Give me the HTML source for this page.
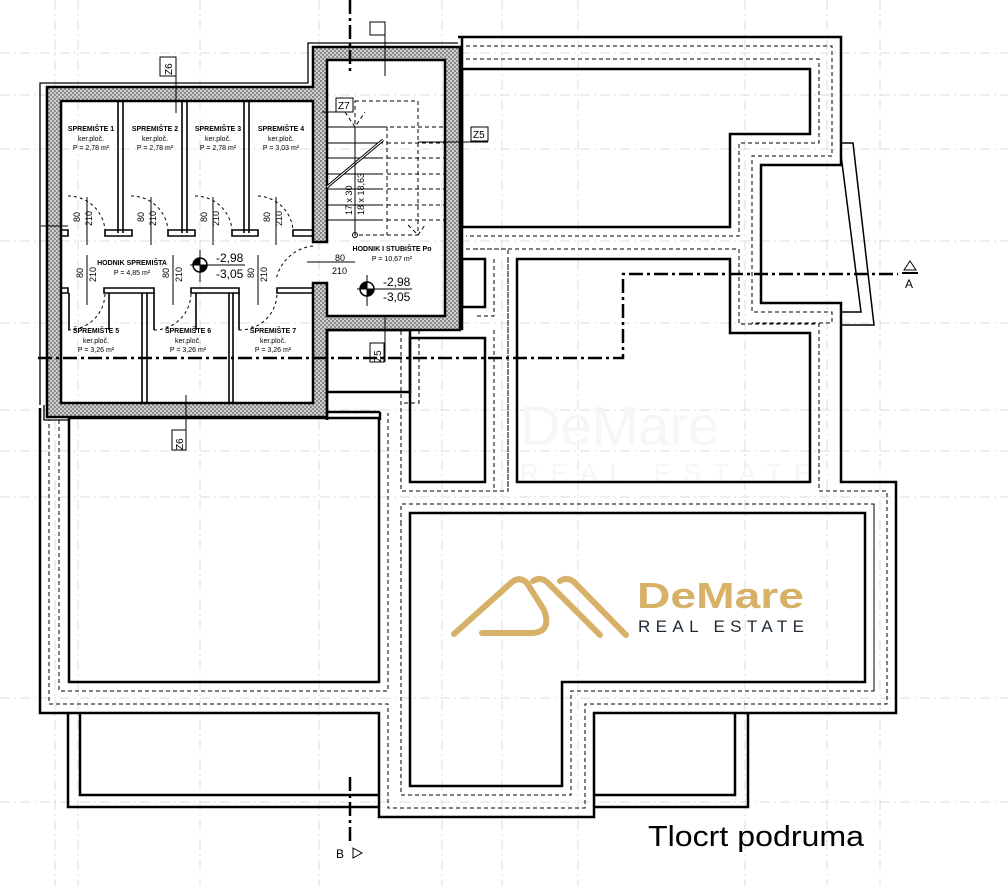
<!DOCTYPE html>
<html><head><meta charset="utf-8"><style>
html,body{margin:0;padding:0;background:#fff;}
svg{display:block;}
text{font-family:"Liberation Sans",sans-serif;}
</style></head><body>
<svg width="1008" height="886" viewBox="0 0 1008 886" xmlns="http://www.w3.org/2000/svg">
<defs>
<pattern id="h" width="4" height="4" patternUnits="userSpaceOnUse">
<rect width="4" height="4" fill="#d0d0d0"/><rect width="2" height="2" fill="#8a8a8a"/><rect x="2" y="2" width="2" height="2" fill="#8a8a8a"/>
</pattern>
</defs>
<!-- grid -->
<g stroke="#dcdcdc" stroke-width="1" stroke-dasharray="10,4,2,4" fill="none">
<line x1="0" y1="53" x2="1008" y2="53"/><line x1="0" y1="95" x2="1008" y2="95"/>
<line x1="0" y1="149" x2="1008" y2="149"/><line x1="0" y1="241" x2="1008" y2="241"/>
<line x1="0" y1="323" x2="1008" y2="323"/><line x1="0" y1="410" x2="1008" y2="410"/>
<line x1="0" y1="451" x2="1008" y2="451"/><line x1="0" y1="497" x2="1008" y2="497"/>
<line x1="0" y1="698" x2="1008" y2="698"/><line x1="0" y1="802" x2="1008" y2="802"/>
<line x1="55" y1="0" x2="55" y2="886"/><line x1="78" y1="0" x2="78" y2="886"/>
<line x1="319" y1="0" x2="319" y2="886"/><line x1="442" y1="0" x2="442" y2="886"/>
<line x1="502" y1="0" x2="502" y2="886"/><line x1="578" y1="0" x2="578" y2="886"/>
<line x1="745" y1="0" x2="745" y2="886"/><line x1="827" y1="0" x2="827" y2="886"/>
<line x1="880" y1="0" x2="880" y2="886"/><line x1="200" y1="0" x2="200" y2="886"/>
</g>
<!-- watermark faint -->
<text x="520" y="445" font-size="56" fill="#f5f6f8">DeMare</text>
<text x="520" y="482" font-size="26" fill="#f5f6f8" letter-spacing="12">REAL ESTATE</text>

<!-- hatched walls -->
<path fill="url(#h)" fill-rule="evenodd" stroke="#000" stroke-width="2.5" d="M47,87 L313,87 L313,47 L460,47 L460,330 L327,330 L327,417 L47,417 Z M61,101 L313,101 L313,242 L327,242 L327,60 L445,60 L445,316 L327,316 L327,283 L313,283 L313,403 L61,403 Z"/>
<!-- thin outlines -->
<g fill="none" stroke="#000" stroke-width="1.3">
<polyline points="40,405 40,83 308,83 308,43 458,43"/>
<polyline points="44,405 44,420 68,420"/>
</g>
<!-- right structure thick -->
<g fill="none" stroke="#000" stroke-width="2.5">
<polyline points="458,37 841,37 841,165 761,165 761,303 841,303 841,482 896,482 896,713 594,713 594,817 379,817 379,713 40,713 40,408"/>
<polyline points="462,37 462,330"/>
<polygon points="462,69 810,69 810,134 730,134 730,227 462,227"/>
<polygon points="517,259 730,259 730,333 810,333 810,482 517,482"/>
<rect x="410" y="338" width="75" height="144"/>
<rect x="462" y="259" width="23" height="48"/>
<rect x="69" y="418" width="310" height="264"/>
<polygon points="410,513 865,513 865,682 562,682 562,786 410,786"/>
<polyline points="68,713 68,807 379,807"/>
<polyline points="80,713 80,795 379,795"/>
<polyline points="748,713 748,807 594,807"/>
<polyline points="735,713 735,795 594,795"/>
<rect x="327" y="330" width="83" height="62"/>
<line x1="327" y1="330" x2="327" y2="420"/>
<line x1="327" y1="412" x2="380" y2="412"/>
<line x1="380" y1="412" x2="380" y2="420"/>
</g>
<g fill="none" stroke="#000" stroke-width="1.5">
<polyline points="841,143 853,143 874,325 841,325"/>
<polyline points="841,155 861,312 841,312"/>
</g>
<!-- dashed offsets -->
<g fill="none" stroke="#000" stroke-width="1" stroke-dasharray="4,3">
<polyline points="466,59 819,59 819,143 739,143 739,236 466,236"/>
<polyline points="466,46 832,46 832,156 752,156 752,312 832,312 832,323 752,323 752,324"/>
<polyline points="466,249 739,249 739,324 819,324 819,491 887,491 887,704 585,704 585,808 388,808 388,704 49,704 49,420"/>
<polyline points="474,249 508,249 508,491 401,491 401,330"/>
<polyline points="494,259 494,316 474,316"/>
<polyline points="59,420 59,691 388,691 388,413"/>
<polyline points="508,259 508,491"/>
<polyline points="401,522 401,795 571,795 571,691 874,691 874,504 401,504 401,522"/>
<polyline points="419,330 419,403 401,403"/>
<polyline points="494,330 494,491"/>
<polyline points="874,504 874,691"/>
</g>

<!-- storage partitions -->
<g fill="none" stroke="#000" stroke-width="1.6">
<line x1="118" y1="101" x2="118" y2="233"/><line x1="123" y1="101" x2="123" y2="233"/>
<line x1="182" y1="101" x2="182" y2="233"/><line x1="187" y1="101" x2="187" y2="233"/>
<line x1="244" y1="101" x2="244" y2="233"/><line x1="249" y1="101" x2="249" y2="233"/>
<path d="M61,230 H68 V236 H61 M105,230 H132 V236 H105 Z M168,230 H195 V236 H168 Z M232,230 H258 V236 H232 Z M293,230 H313 V236 H293 Z"/>
<path d="M61,288 H68 V293 H61 M104,288 H154 V293 H104 Z M191,288 H239 V293 H191 Z M277,288 H313 V293 H277 Z"/>
<line x1="142" y1="293" x2="142" y2="403"/><line x1="147" y1="293" x2="147" y2="403"/>
<line x1="229" y1="293" x2="229" y2="403"/><line x1="233" y1="293" x2="233" y2="403"/>
<line x1="69" y1="293" x2="69" y2="330"/><line x1="109" y1="293" x2="109" y2="330"/>
<line x1="154" y1="293" x2="154" y2="330"/><line x1="196" y1="293" x2="196" y2="330"/>
<line x1="239" y1="293" x2="239" y2="330"/>
</g>
<!-- door arcs -->
<g fill="none" stroke="#000" stroke-width="1" stroke-dasharray="3,3">
<path d="M68,196 A37,37 0 0 1 105,230"/><path d="M131,196 A37,37 0 0 1 168,230"/>
<path d="M195,196 A37,37 0 0 1 232,230"/><path d="M258,196 A37,37 0 0 1 293,230"/>
<path d="M68,330 A37,37 0 0 0 105,293"/><path d="M154,330 A37,37 0 0 0 191,293"/>
<path d="M239,330 A37,37 0 0 0 277,293"/>
<path d="M313,246 A42,42 0 0 0 276,280"/>
</g>
<g stroke="#000" stroke-width="1" fill="none">
<line x1="41" y1="226" x2="68" y2="226"/>
<line x1="87" y1="197" x2="87" y2="245"/><line x1="151" y1="197" x2="151" y2="245"/>
<line x1="213" y1="197" x2="213" y2="245"/><line x1="276" y1="197" x2="276" y2="245"/>
<line x1="87" y1="255" x2="87" y2="305"/><line x1="173" y1="255" x2="173" y2="305"/><line x1="258" y1="255" x2="258" y2="305"/>
<line x1="307" y1="262" x2="355" y2="262"/>
</g>
<g font-size="9" fill="#000">
<text transform="translate(80,222) rotate(-90)">80</text><text transform="translate(92,226) rotate(-90)">210</text>
<text transform="translate(144,222) rotate(-90)">80</text><text transform="translate(156,226) rotate(-90)">210</text>
<text transform="translate(207,222) rotate(-90)">80</text><text transform="translate(219,226) rotate(-90)">210</text>
<text transform="translate(270,222) rotate(-90)">80</text><text transform="translate(282,226) rotate(-90)">210</text>
<text transform="translate(83,278) rotate(-90)">80</text><text transform="translate(96,282) rotate(-90)">210</text>
<text transform="translate(169,278) rotate(-90)">80</text><text transform="translate(182,282) rotate(-90)">210</text>
<text transform="translate(254,278) rotate(-90)">80</text><text transform="translate(267,282) rotate(-90)">210</text>
<text x="335" y="261">80</text><text x="332" y="274">210</text>
</g>
<!-- room labels -->
<g font-size="7" text-anchor="middle" fill="#000">
<text x="91" y="131" font-weight="bold">SPREMIŠTE 1</text><text x="91" y="141">ker.ploč.</text><text x="91" y="150">P = 2,78 m²</text>
<text x="155" y="131" font-weight="bold">SPREMIŠTE 2</text><text x="155" y="141">ker.ploč.</text><text x="155" y="150">P = 2,78 m²</text>
<text x="218" y="131" font-weight="bold">SPREMIŠTE 3</text><text x="218" y="141">ker.ploč.</text><text x="218" y="150">P = 2,78 m²</text>
<text x="281" y="131" font-weight="bold">SPREMIŠTE 4</text><text x="281" y="141">ker.ploč.</text><text x="281" y="150">P = 3,03 m²</text>
<text x="132" y="265" font-weight="bold">HODNIK SPREMIŠTA</text><text x="132" y="275">P = 4,85 m²</text>
<text x="96" y="333" font-weight="bold">ŠPREMIŠTE 5</text><text x="96" y="343">ker.ploč.</text><text x="96" y="352">P = 3,26 m²</text>
<text x="188" y="333" font-weight="bold">ŠPREMIŠTE 6</text><text x="188" y="343">ker.ploč.</text><text x="188" y="352">P = 3,26 m²</text>
<text x="273" y="333" font-weight="bold">ŠPREMIŠTE 7</text><text x="273" y="343">ker.ploč.</text><text x="273" y="352">P = 3,26 m²</text>
<text x="392" y="251" font-weight="bold">HODNIK I STUBIŠTE Po</text><text x="392" y="261">P = 10,67 m²</text>
</g>
<!-- stairs -->
<g stroke="#000" stroke-width="1" fill="none">
<path d="M327,127 H383 M327,143 H383 M327,158 H383 M327,174 H383 M327,189 H383 M327,205 H383 M327,220 H383"/>
<line x1="327" y1="187" x2="383" y2="140" stroke-width="3"/>
<line x1="327" y1="187" x2="383" y2="140" stroke="#fff" stroke-width="1"/>
<g stroke-dasharray="4,3">
<rect x="355" y="101" width="63" height="134"/>
<line x1="387" y1="127" x2="387" y2="235"/>
<path d="M383,127 H445 M387,143 H445 M387,158 H445 M387,174 H445 M387,189 H445 M387,205 H445 M387,220 H445"/>
<path d="M345,112 L355,127 L365,112"/><path d="M408,225 L418,235 L425,225"/>
</g>
<line x1="355" y1="127" x2="355" y2="235"/>
<circle cx="355" cy="235" r="2.5"/>
</g>
<text transform="translate(352,215) rotate(-90)" font-size="9">17 x 30</text>
<text transform="translate(364,215) rotate(-90)" font-size="9">18 x 18,63</text>
<!-- level markers -->
<g>
<circle cx="200" cy="265" r="7" fill="#fff" stroke="#000" stroke-width="1.5"/>
<path d="M200,265 L207,265 A7,7 0 0 1 200,272 Z M200,265 L193,265 A7,7 0 0 1 200,258 Z" fill="#000"/>
<line x1="190" y1="265" x2="245" y2="265" stroke="#000"/><line x1="200" y1="250" x2="200" y2="282" stroke="#000"/>
<text x="216" y="262" font-size="12">-2,98</text><text x="216" y="278" font-size="12">-3,05</text>
<circle cx="367" cy="289" r="7" fill="#fff" stroke="#000" stroke-width="1.5"/>
<path d="M367,289 L374,289 A7,7 0 0 1 367,296 Z M367,289 L360,289 A7,7 0 0 1 367,282 Z" fill="#000"/>
<line x1="357" y1="289" x2="412" y2="289" stroke="#000"/><line x1="367" y1="275" x2="367" y2="306" stroke="#000"/>
<text x="383" y="286" font-size="12">-2,98</text><text x="383" y="301" font-size="12">-3,05</text>
</g>
<!-- Z tags -->
<g stroke="#000" stroke-width="1" fill="none">
<line x1="176" y1="65" x2="176" y2="113"/><line x1="385" y1="30" x2="385" y2="76"/>
<line x1="322" y1="112" x2="353" y2="112"/><line x1="418" y1="142" x2="488" y2="142"/>
<line x1="385" y1="316" x2="385" y2="362"/><line x1="186" y1="395" x2="186" y2="450"/>
</g>
<g font-size="10" fill="#000">
<rect x="160" y="57" width="16" height="19" fill="#fff" stroke="#000"/><text transform="translate(172,75) rotate(-90)">Z6</text>
<rect x="336" y="98" width="17" height="14" fill="#fff" stroke="#000"/><text x="338" y="109">Z7</text>
<rect x="471" y="127" width="17" height="14" fill="#fff" stroke="#000"/><text x="473" y="138">Z5</text>
<rect x="370" y="343" width="14" height="19" fill="#fff" stroke="#000"/><text transform="translate(381,362) rotate(-90)">Z5</text>
<rect x="172" y="430" width="14" height="20" fill="#fff" stroke="#000"/><text transform="translate(183,450) rotate(-90)">Z6</text>
<rect x="370" y="22" width="15" height="13" fill="#fff" stroke="#000"/>
</g>
<!-- section lines -->
<g stroke="#000" stroke-width="2.5" fill="none" stroke-dasharray="14,4,3,4">
<polyline points="38,358 623,358 623,274 898,274"/>
<line x1="350" y1="0" x2="350" y2="75"/>
<line x1="350" y1="777" x2="350" y2="845"/>
</g>
<path d="M904,270 L910,261 L916,270 Z" fill="none" stroke="#000"/><line x1="902" y1="273" x2="918" y2="273" stroke="#000" stroke-width="2"/>
<text x="905" y="288" font-size="12">A</text>
<text x="336" y="858" font-size="12">B</text><path d="M353,848 L362,853 L353,858 Z" fill="none" stroke="#000"/>
<!-- logo -->
<g fill="none" stroke="#d6b167" stroke-width="6" stroke-linecap="round" stroke-linejoin="round">
<path d="M454,634 L512,582 Q520,576 527,583 L544,610 Q552,632 532,633 L482,633"/>
<path d="M533,581 Q541,576 548,583 L600,635"/>
<path d="M560,581 Q568,576 575,583 L626,635"/>
</g>
<text x="637" y="608" font-size="36" font-weight="bold" fill="#d6b167" textLength="167" lengthAdjust="spacingAndGlyphs">DeMare</text>
<text x="638" y="632" font-size="17" fill="#1f2a33" textLength="166" lengthAdjust="spacing">REAL ESTATE</text>
<text x="648" y="846" font-size="29" fill="#000" textLength="216" lengthAdjust="spacingAndGlyphs">Tlocrt podruma</text>
</svg>
</body></html>
